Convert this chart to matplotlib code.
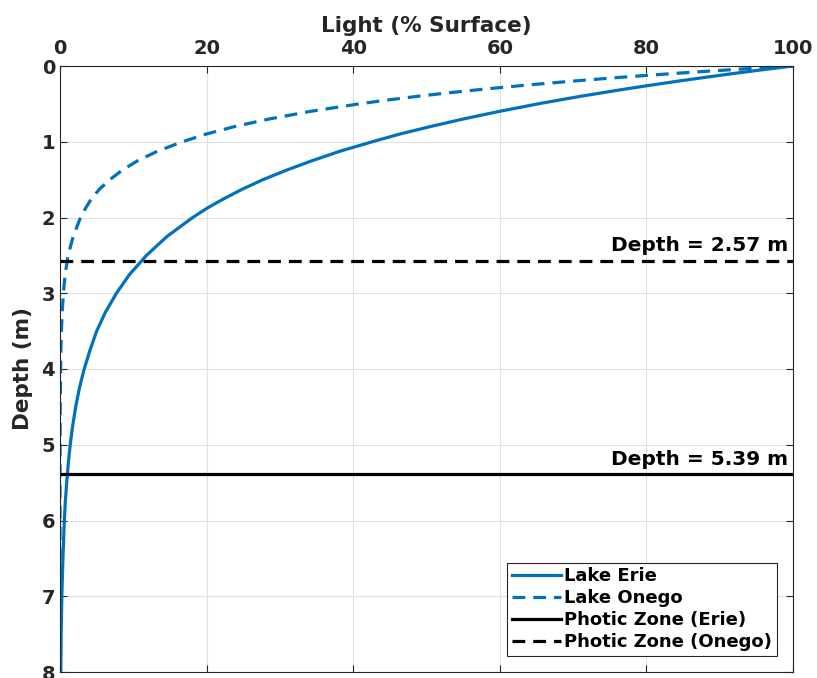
import numpy as np
import matplotlib
matplotlib.use("Agg")
import matplotlib.pyplot as plt

# depth samples (m) and light (% of surface)
depth = [0.0, 0.025, 0.05, 0.075, 0.1, 0.125, 0.15, 0.2, 0.25, 0.3, 0.35,
         0.4, 0.45, 0.5, 0.6, 0.7, 0.8, 0.9, 1.0, 1.125, 1.25, 1.375, 1.5,
         1.625, 1.75, 1.875, 2.0, 2.25, 2.5, 2.75, 3.0, 3.25, 3.5, 3.75, 4.0,
         4.25, 4.5, 4.75, 5.0, 5.25, 5.5, 5.75, 6.0, 6.5, 7.0, 7.5, 8.0]
light_erie = [100.0, 97.9, 95.8, 93.8, 91.8, 89.9, 88.0, 84.3, 80.8, 77.4,
              74.2, 71.0, 68.1, 65.2, 59.9, 55.0, 50.5, 46.3, 42.6, 38.2,
              34.4, 30.9, 27.7, 24.9, 22.4, 20.1, 18.1, 14.6, 11.8, 9.5, 7.7,
              6.2, 5.0, 4.1, 3.3, 2.65, 2.14, 1.73, 1.39, 1.13, 0.91, 0.73,
              0.59, 0.4, 0.25, 0.16, 0.11]
light_onego = [100.0, 95.6, 91.4, 87.4, 83.6, 79.9, 76.4, 69.9, 63.9, 58.4,
               53.4, 48.8, 44.6, 40.8, 34.1, 28.5, 23.8, 19.9, 16.7, 13.3,
               10.6, 8.5, 6.8, 5.4, 4.3, 3.5, 2.8, 1.8, 1.1, 0.7, 0.46, 0.30,
               0.19, 0.12, 0.08, 0.05, 0.03, 0.02, 0.01, 0.01, 0.0, 0.0, 0.0,
               0.0, 0.0, 0.0, 0.0]

photic_erie = 5.39
photic_onego = 2.57

blue = "#0072BD"
ink = "#262626"

plt.rcParams["font.family"] = "DejaVu Sans"
plt.rcParams["font.weight"] = "bold"

fig = plt.figure(figsize=(8.17, 6.78), dpi=100)
ax = fig.add_axes([60 / 817, 6 / 678, 733 / 817, 606 / 678])

ax.plot(light_erie, depth, color=blue, lw=2.3, label="Lake Erie")
ax.plot(light_onego, depth, color=blue, lw=2.3, ls=(0, (4, 2.5)), label="Lake Onego")
ax.axhline(photic_erie, color="black", lw=2.3, label="Photic Zone (Erie)")
ax.axhline(photic_onego, color="black", lw=2.3, ls=(0, (4, 2.5)), label="Photic Zone (Onego)")

ax.text(99.3, photic_erie - 0.07, "Depth = %.2f m" % photic_erie, ha="right", va="bottom",
        fontsize=14.5, fontweight="bold", color="black")
ax.text(99.3, photic_onego - 0.07, "Depth = %.2f m" % photic_onego, ha="right", va="bottom",
        fontsize=14.5, fontweight="bold", color="black")

ax.set_xlim(0, 100)
ax.set_ylim(8, 0)
ax.set_xticks([0, 20, 40, 60, 80, 100])
ax.set_yticks(range(0, 9))
ax.xaxis.tick_top()
ax.xaxis.set_label_position("top")
ax.tick_params(axis="both", direction="in", labelsize=14, colors=ink,
               top=True, bottom=True, left=True, right=True, length=5, width=0.8)
ax.tick_params(axis="x", pad=6)
for lab in ax.get_xticklabels() + ax.get_yticklabels():
    lab.set_fontweight("bold")
ax.set_xlabel("Light (% Surface)", fontsize=15.5, fontweight="bold", color=ink, labelpad=5)
ax.set_ylabel("Depth (m)", fontsize=15.5, fontweight="bold", color=ink, labelpad=6)
ax.grid(True, color="#e0e0e0", lw=0.8)
for s in ax.spines.values():
    s.set_color(ink)
    s.set_linewidth(0.8)

leg = ax.legend(loc="lower right", prop={"weight": "bold", "size": 13},
                frameon=True, fancybox=False, edgecolor=ink, framealpha=1,
                handlelength=2.7, handletextpad=0.2, borderpad=0.25,
                labelspacing=0.22, borderaxespad=0.9)
leg.get_frame().set_linewidth(0.8)

fig.savefig("out.png", dpi=100)
